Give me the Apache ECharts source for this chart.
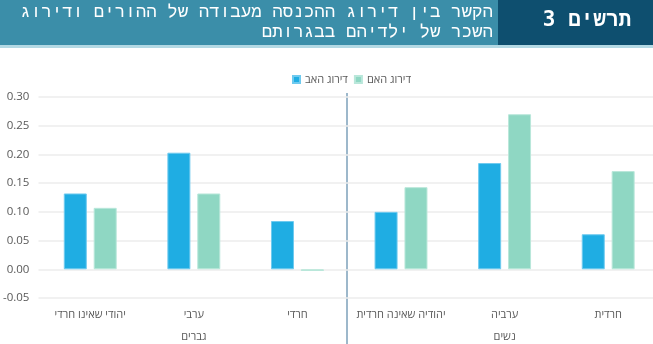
<!DOCTYPE html>
<html>
<head>
<meta charset="utf-8">
<script src="https://cdn.jsdelivr.net/npm/echarts@6/dist/echarts.min.js"></script>
<style>
html,body{margin:0;padding:0;background:#fff;overflow:hidden;}
#c{width:662px;height:344px;}
</style>
</head>
<body>
<div id="c"></div>
<script>
var categories = ["יהודי שאינו חרדי", "ערבי", "חרדי", "יהודיה שאינה חרדית", "ערביה", "חרדית"];
var groups = ["גברים", "נשים"];
var fatherRank = [0.132, 0.203, 0.084, 0.100, 0.185, 0.061];
var motherRank = [0.107, 0.132, -0.003, 0.143, 0.270, 0.171];
var seriesNames = ["דירוג האב", "דירוג האם"];
var titleLine1 = "הקשר בין דירוג ההכנסה מעבודה של ההורים ודירוג";
var titleLine2 = "השכר של ילדיהם בבגרותם";
var chartNo = "תרשים 3";

var FONT = "'Open Sans', 'DejaVu Sans', sans-serif";
var TFONT = "'DejaVu Sans Mono', 'Liberation Mono', monospace";
var chart = echarts.init(document.getElementById('c'), null, {renderer: 'canvas'});
chart.setOption({
  animation: false,
  backgroundColor: '#ffffff',
  graphic: [
    {id: 'bgL', type: 'rect', shape: {x: 0, y: 0, width: 498, height: 45}, style: {fill: '#3b8ea9'}},
    {id: 'bgR', type: 'rect', shape: {x: 498, y: 0, width: 164, height: 45}, style: {fill: '#0e4f6f'}},
    {id: 'bgLine', type: 'rect', shape: {x: 0, y: 45, width: 662, height: 3}, style: {fill: '#b3d9e4'}},
    {id: 't1', type: 'text', x: 493, y: 12, style: {text: titleLine1, fill: '#ffffff', font: "17.5px " + TFONT, textAlign: 'right', textVerticalAlign: 'middle'}},
    {id: 't2', type: 'text', x: 493, y: 32, style: {text: titleLine2, fill: '#ffffff', font: "17.5px " + TFONT, textAlign: 'right', textVerticalAlign: 'middle'}},
    {id: 't3', type: 'text', x: 587, y: 21, style: {text: chartNo, fill: '#ffffff', font: "bold 21px " + TFONT, textAlign: 'center', textVerticalAlign: 'middle'}}
  ],
  legend: {
    data: seriesNames,
    left: 287,
    top: 69,
    itemWidth: 7,
    itemHeight: 7,
    itemGap: 6,
    icon: 'rect',
    textStyle: {color: '#595959', fontSize: 11, fontFamily: FONT}
  },
  grid: {left: 38, top: 97, width: 622, height: 201, containLabel: false},
  xAxis: [
    {
      type: 'category',
      data: categories,
      position: 'bottom',
      axisLine: {show: false, onZero: false},
      axisTick: {show: false},
      splitLine: {show: false},
      axisLabel: {color: '#595959', fontSize: 11, fontFamily: FONT, margin: 11, interval: 0}
    },
    {
      type: 'category',
      data: groups,
      position: 'bottom',
      offset: 0,
      axisLine: {show: false, onZero: false},
      axisTick: {show: false},
      axisLabel: {color: '#595959', fontSize: 11, fontFamily: FONT, margin: 33, interval: 0}
    }
  ],
  yAxis: {
    type: 'value',
    min: -0.05,
    max: 0.30,
    interval: 0.05,
    axisLine: {show: false},
    axisTick: {show: false},
    splitLine: {lineStyle: {color: '#ededed', width: 1.5}},
    axisLabel: {color: '#595959', fontSize: 11.5, fontFamily: FONT, margin: 9, formatter: function (v) { return v.toFixed(2); }}
  },
  series: [
    {
      name: seriesNames[0], type: 'bar', data: fatherRank, barWidth: 23, barGap: '30%',
      itemStyle: {color: '#1fade3', borderColor: '#6fcaef', borderWidth: 1}
    },
    {
      name: seriesNames[1], type: 'bar', data: motherRank, barWidth: 23,
      itemStyle: {color: '#8fd7c3', borderColor: '#b9e7da', borderWidth: 1}
    }
  ]
});
// divider between the men's and women's groups, placed via the axis scale
var xa = chart.convertToPixel({xAxisIndex: 0}, categories[2]);
var xb = chart.convertToPixel({xAxisIndex: 0}, categories[3]);
var yTop = chart.convertToPixel({yAxisIndex: 0}, 0.30);
var dx = Math.round((xa + xb) / 2) - 2;
chart.setOption({
  graphic: [
    {id: 'divider', type: 'line', shape: {x1: dx, y1: yTop - 4, x2: dx, y2: 344}, style: {stroke: '#9db8cb', lineWidth: 2}}
  ]
});
</script>
</body>
</html>
